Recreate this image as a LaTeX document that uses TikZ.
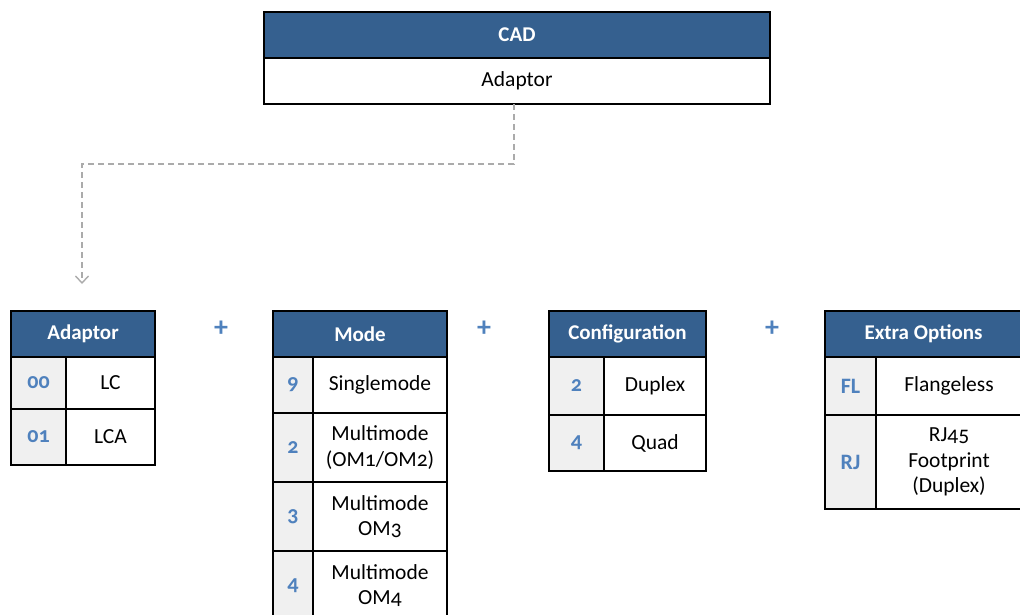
\documentclass[tikz,border=0pt]{standalone}
\usepackage{fontspec}
\setmainfont[Numbers=OldStyle]{Carlito}
\usetikzlibrary{arrows.meta}

\definecolor{hdrblue}{HTML}{35608F}
\definecolor{codeblue}{HTML}{4F81BD}
\definecolor{codegrey}{HTML}{F0F0F0}
\definecolor{linkgrey}{HTML}{ABABAB}

\begin{document}
\begin{tikzpicture}[x=1pt,y=-1pt,
  cell/.style={draw=black,line width=1.6pt,anchor=north west,outer sep=0pt,
    inner sep=2pt,align=center,font=\fontsize{21.5}{25.5}\selectfont},
  hdr/.style={cell,fill=hdrblue,text=white,font=\fontsize{21}{25}\selectfont\bfseries},
  code/.style={cell,fill=codegrey,text=codeblue,font=\fontsize{22}{24}\selectfont\bfseries},
  plus/.style={text=codeblue,font=\fontsize{28}{28}\selectfont\bfseries},
  link/.style={draw=linkgrey,line width=1.4pt,dash pattern=on 6pt off 4pt,
    -{Straight Barb[length=7pt,width=13pt]}}]
\useasboundingbox (0,0) rectangle (1020,614);

% top box
\node[hdr,minimum width=506pt,minimum height=46pt] (cad) at (264,12) {CAD};
\node[cell,minimum width=506pt,minimum height=46pt] (cad-body) at (264,58) {Adaptor};

% adaptor
\node[hdr,minimum width=144pt,minimum height=46pt] (ad) at (11,311) {Adaptor};
\node[code,minimum width=55pt,minimum height=52pt] (ad-c1) at (11,357) {00};
\node[cell,minimum width=89pt,minimum height=52pt] (ad-d1) at (66,357) {LC};
\node[code,minimum width=55pt,minimum height=56pt] (ad-c2) at (11,409) {01};
\node[cell,minimum width=89pt,minimum height=56pt] (ad-d2) at (66,409) {LCA};

\node[plus] (plus1) at (221,329) {+};

% mode
\node[hdr,minimum width=174pt,minimum height=46pt] (md) at (273,311) {Mode};
\node[code,minimum width=40pt,minimum height=56pt] (md-c1) at (273,357) {9};
\node[cell,minimum width=134pt,minimum height=56pt] (md-d1) at (313,357) {Singlemode};
\node[code,minimum width=40pt,minimum height=69pt] (md-c2) at (273,413) {2};
\node[cell,minimum width=134pt,minimum height=69pt] (md-d2) at (313,413) {Multimode\\(OM1/OM2)};
\node[code,minimum width=40pt,minimum height=69pt] (md-c3) at (273,482) {3};
\node[cell,minimum width=134pt,minimum height=69pt] (md-d3) at (313,482) {Multimode\\OM3};
\node[code,minimum width=40pt,minimum height=69pt] (md-c4) at (273,551) {4};
\node[cell,minimum width=134pt,minimum height=69pt] (md-d4) at (313,551) {Multimode\\OM4};

\node[plus] (plus2) at (484,329) {+};

% configuration
\node[hdr,minimum width=157pt,minimum height=46pt] (cf) at (549,311) {Configuration};
\node[code,minimum width=55pt,minimum height=58pt] (cf-c1) at (549,357) {2};
\node[cell,minimum width=102pt,minimum height=58pt] (cf-d1) at (604,357) {Duplex};
\node[code,minimum width=55pt,minimum height=56pt] (cf-c2) at (549,415) {4};
\node[cell,minimum width=102pt,minimum height=56pt] (cf-d2) at (604,415) {Quad};

\node[plus] (plus3) at (772,329) {+};

% extra options
\node[hdr,minimum width=197pt,minimum height=46pt] (ex) at (825,311) {Extra Options};
\node[code,minimum width=51pt,minimum height=58pt] (ex-c1) at (825,357) {FL};
\node[cell,minimum width=146pt,minimum height=58pt] (ex-d1) at (876,357) {Flangeless};
\node[code,minimum width=51pt,minimum height=94pt] (ex-c2) at (825,415) {RJ};
\node[cell,minimum width=146pt,minimum height=94pt] (ex-d2) at (876,415) {RJ45\\Footprint\\(Duplex)};

% connector
\coordinate (tip) at (82,284);
\draw[link] ([xshift=-3pt]cad-body.south) -- ++(0,60) -| (tip);
\end{tikzpicture}
\end{document}
